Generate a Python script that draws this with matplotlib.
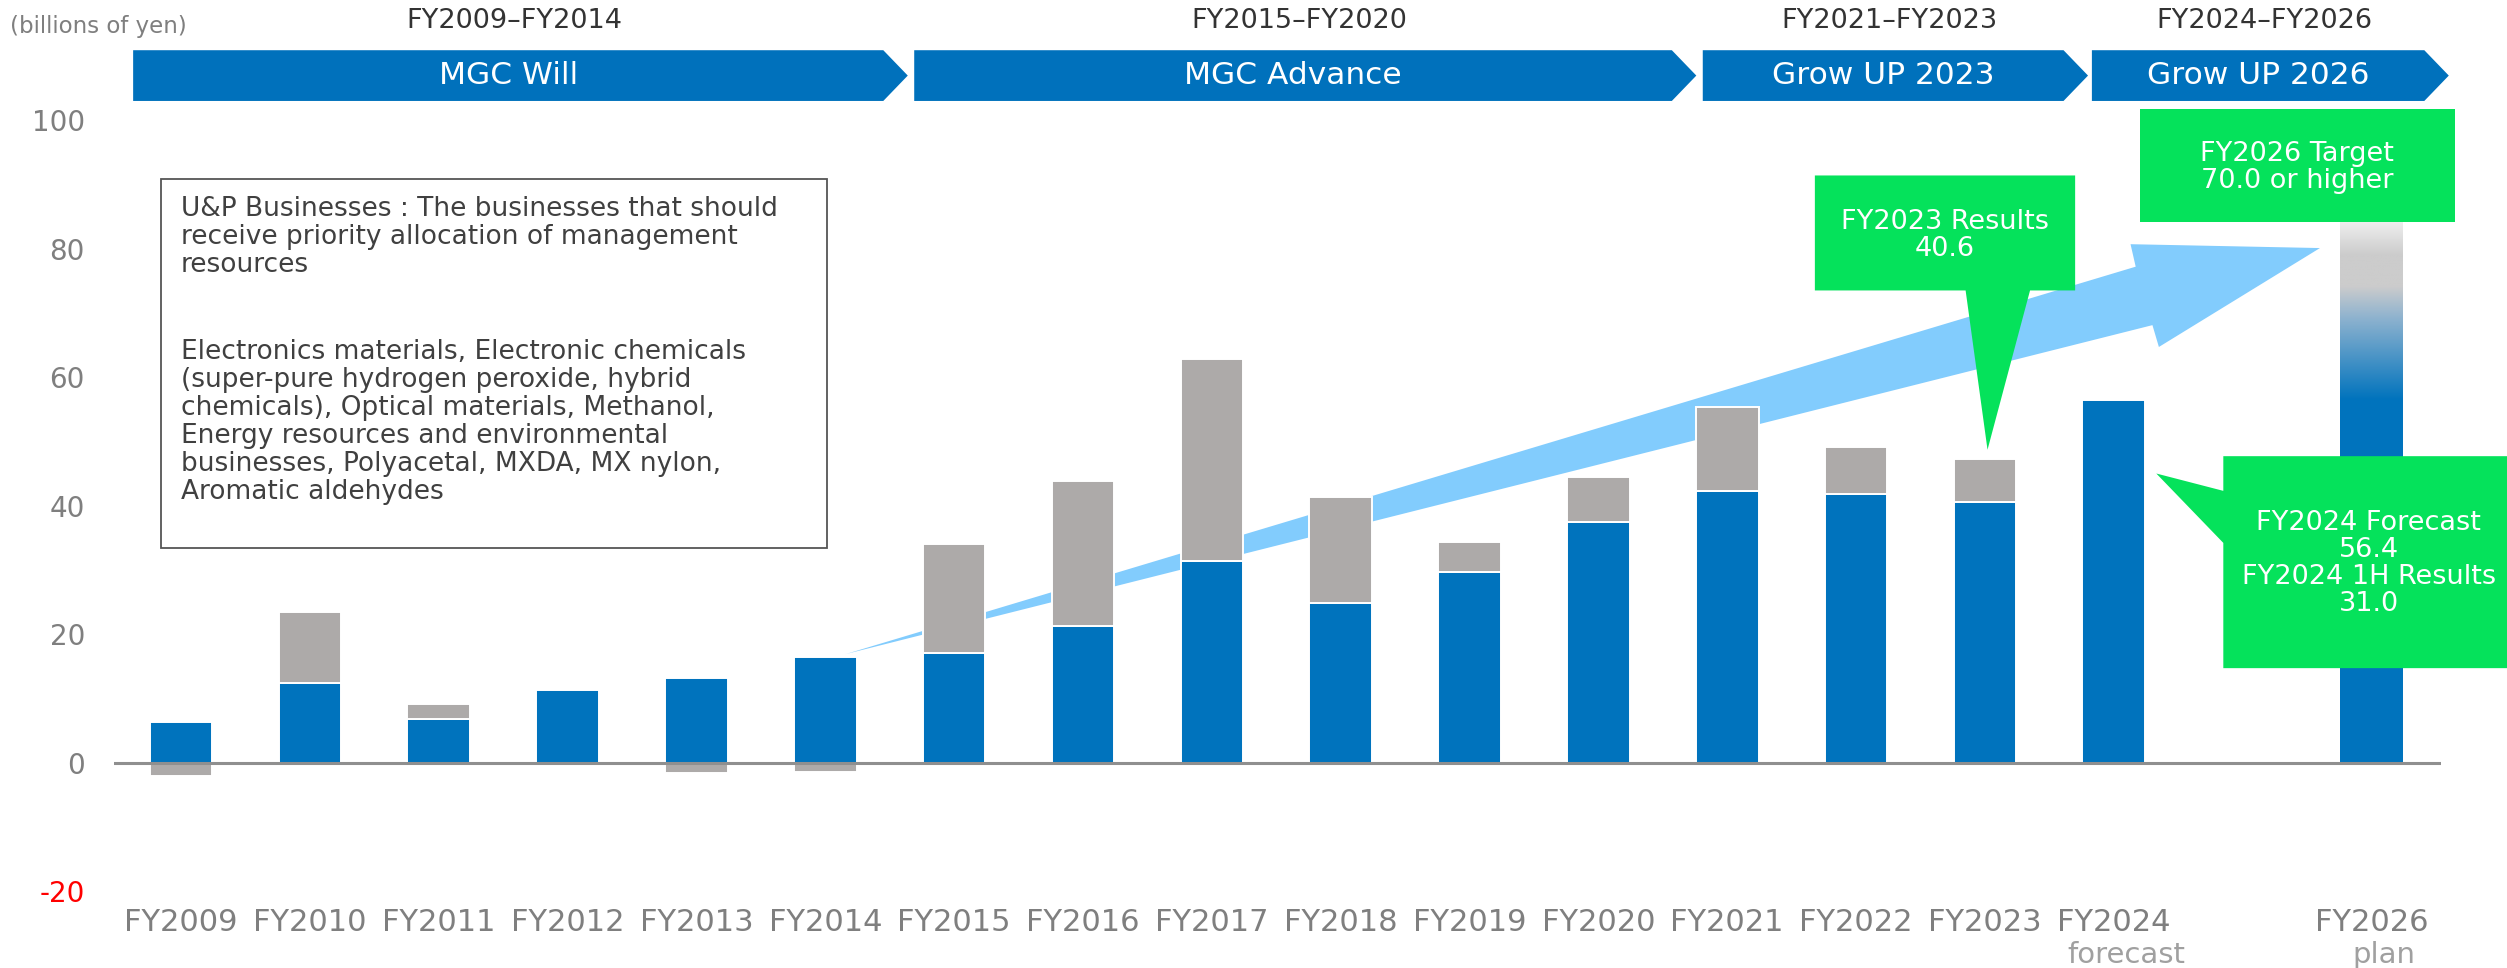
import numpy as np
import matplotlib.pyplot as plt
from matplotlib.patches import Polygon, Rectangle
from matplotlib.colors import LinearSegmentedColormap

#----- data (billions of yen)
years = ['FY2009', 'FY2010', 'FY2011', 'FY2012', 'FY2013', 'FY2014', 'FY2015', 'FY2016',
         'FY2017', 'FY2018', 'FY2019', 'FY2020', 'FY2021', 'FY2022', 'FY2023', 'FY2024', 'FY2026']
sub_labels = {'FY2024': 'forecast', 'FY2026': 'plan'}
up_profit = [6.3, 12.4, 6.85, 11.3, 13.2, 16.5, 17.1, 21.3, 31.4, 24.9, 29.7, 37.4,
             42.3, 41.8, 40.6, 56.4]                      # FY2009-FY2024 (FY2024 = forecast)
other_profit = [-2.1, 11.0, 2.2, 0.0, -1.7, -1.5, 16.9, 22.5, 31.4, 16.5, 4.6, 7.1,
                13.1, 7.3, 6.7]                           # FY2009-FY2023
fy2026_target = 70.0
yticks = [-20, 0, 20, 40, 60, 80, 100]

periods = ['FY2009–FY2014', 'FY2015–FY2020', 'FY2021–FY2023', 'FY2024–FY2026']
plans = ['MGC Will', 'MGC Advance', 'Grow UP 2023', 'Grow UP 2026']

note_head = ('U&P Businesses : The businesses that should\n'
             'receive priority allocation of management\n'
             'resources')
note_body = ('Electronics materials, Electronic chemicals\n'
             '(super-pure hydrogen peroxide, hybrid\n'
             'chemicals), Optical materials, Methanol,\n'
             'Energy resources and environmental\n'
             'businesses, Polyacetal, MXDA, MX nylon,\n'
             'Aromatic aldehydes')

#----- colours
BLUE = '#0073BD'
GRAY = '#ADAAA9'
GREEN = '#05E25B'
ARROW = '#82CCFD'
CHEV = '#0071BC'
TICK = '#7F7F7F'

plt.rcParams['font.family'] = ['DejaVu Sans']

fig = plt.figure(figsize=(25.07, 9.68), dpi=100)
ax = fig.add_axes([0.0455, 0.0795, 0.9282, 0.7963])

x_main = np.arange(len(up_profit))           # FY2009..FY2024
x_plan = len(up_profit) + 1                   # FY2026 (one slot skipped)
xpos = list(x_main) + [x_plan]
bw = 0.486

#----- big light-blue growth arrow (behind the bars)
arrow = Polygon([(5.16, 16.9), (15.17, 77.2), (15.13, 80.7), (16.6, 80.1),
                 (15.35, 64.7), (15.30, 68.1)], closed=True,
                facecolor=ARROW, edgecolor='none', zorder=1)
ax.add_patch(arrow)

#----- bars
ax.bar(x_main, up_profit, width=bw, color=BLUE, edgecolor='white', linewidth=1.4, zorder=2)
oth = np.array(other_profit)
ups = np.array(up_profit[:len(oth)])
bottoms = np.where(oth > 0, ups, 0)
ax.bar(x_main[:len(oth)], oth, bottom=bottoms, width=bw, color=GRAY,
       edgecolor='white', linewidth=1.4, zorder=2)

# FY2026 plan bar: solid up to the FY2024 level, then fading out
ax.bar(x_plan, fy2026_target, width=bw, color=BLUE, edgecolor='none', zorder=2)
fade = LinearSegmentedColormap.from_list('fade', [(0, BLUE), (0.45, '#8FB3CF'),
                                                  (0.62, '#CCCCCC'), (0.79, '#CCCCCC'),
                                                  (1, '#F4F4F4')])
grad = np.linspace(0, 1, 256).reshape(-1, 1)
ax.imshow(grad, cmap=fade, origin='lower', aspect='auto', zorder=2.5,
          extent=(x_plan - bw / 2, x_plan + bw / 2, up_profit[-1], 85))

ax.axhline(0, color='#8F8F8F', lw=2.2, zorder=3)

#----- axes styling
ax.set_xlim(-0.52, 17.54)
ax.set_ylim(-20, 100)
for s in ax.spines.values():
    s.set_visible(False)
ax.set_yticks(yticks)
ax.set_yticklabels([str(v) for v in yticks])
ax.tick_params(axis='y', length=0, pad=21, labelsize=20, labelcolor=TICK)
for lab, v in zip(ax.get_yticklabels(), yticks):
    if v < 0:
        lab.set_color('#FF0000')
ax.set_xticks(xpos)
ax.set_xticklabels(years)
ax.tick_params(axis='x', length=0, pad=12, labelsize=22, labelcolor=TICK)
for name, txt in sub_labels.items():
    i = xpos[years.index(name)]
    ax.text(i + 0.1, -30.0, txt, ha='center', va='center', fontsize=21,
            color='#A0A0A0', clip_on=False)

ax.text(-1.33, 114.6, '(billions of yen)', ha='left', va='center', fontsize=16.5,
        color=TICK, clip_on=False)

#----- mid-term plan chevrons
spans = [(-0.372, 5.64), (5.69, 11.76), (11.81, 14.80), (14.83, 17.60)]
tip = 0.19
for (x0, x1), per, name in zip(spans, periods, plans):
    chev = Polygon([(x0, 103.0), (x1 - tip, 103.0), (x1, 106.95), (x1 - tip, 110.9),
                    (x0, 110.9)], closed=True, facecolor=CHEV, edgecolor='none',
                   clip_on=False, zorder=4)
    ax.add_patch(chev)
    xc = (x0 + x1 - tip) / 2
    ax.text(xc, 106.95, name, ha='center', va='center', color='white', fontsize=22.5,
            clip_on=False, zorder=5)
    ax.text(xc + 0.05, 115.5, per, ha='center', va='center', color='#333333',
            fontsize=19.5, clip_on=False)

#----- U&P note box
ax.add_patch(Rectangle((-0.155, 33.4), 5.165, 57.5, facecolor='white',
                       edgecolor='#555555', linewidth=1.3, zorder=4))
ax.text(0.0, 88.2, note_head, ha='left', va='top', fontsize=19, color='#404040',
        linespacing=1.1, zorder=5)
ax.text(0.0, 66.0, note_body, ha='left', va='top', fontsize=19, color='#404040',
        linespacing=1.1, zorder=5)

#----- green callouts
c1 = Polygon([(12.68, 91.4), (14.70, 91.4), (14.70, 73.5), (14.35, 73.5),
              (14.02, 48.7), (13.85, 73.5), (12.68, 73.5)], closed=True,
             facecolor=GREEN, edgecolor='none', zorder=6, clip_on=False)
ax.add_patch(c1)
ax.text(13.69, 82.0, 'FY2023 Results\n%.1f' % up_profit[14], ha='center', va='center',
        color='white', fontsize=19.5, linespacing=1.05, zorder=7)

ax.add_patch(Rectangle((15.2, 84.2), 2.45, 17.5, facecolor=GREEN, edgecolor='none',
                       zorder=6, clip_on=False))
ax.text(16.42, 92.7, 'FY2026 Target\n%.1f or higher' % fy2026_target, ha='center',
        va='center', color='white', fontsize=19.5, linespacing=1.05, zorder=7,
        clip_on=False)

c3 = Polygon([(15.85, 47.7), (18.3, 47.7), (18.3, 14.7), (15.85, 14.7), (15.85, 34.2),
              (15.33, 45.0), (15.85, 42.3)], closed=True, facecolor=GREEN,
             edgecolor='none', zorder=6, clip_on=False)
ax.add_patch(c3)
ax.text(16.98, 31.0, 'FY2024 Forecast\n%.1f\nFY2024 1H Results\n31.0' % up_profit[15],
        ha='center', va='center', color='white', fontsize=19.5, linespacing=1.05,
        zorder=7, clip_on=False)

plt.savefig('out.png', dpi=100)
